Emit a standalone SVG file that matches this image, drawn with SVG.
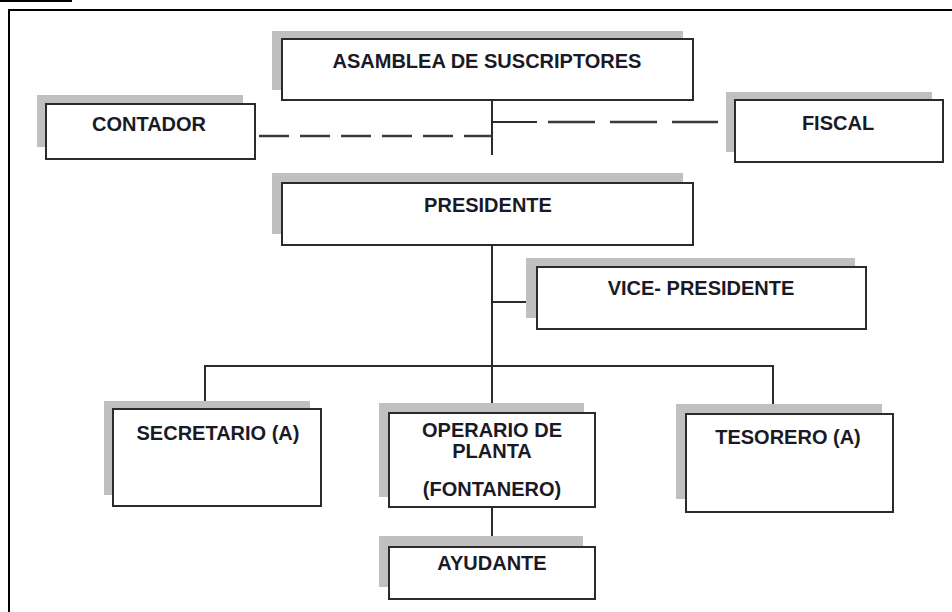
<svg xmlns="http://www.w3.org/2000/svg" width="952" height="612" viewBox="0 0 952 612">
<style>
.shadow{fill:#c0c0c0}
.box{fill:#ffffff;stroke:#2b2b2b;stroke-width:2}
.lbl{font-family:"Liberation Sans",Arial,sans-serif;font-weight:bold;font-size:20px;fill:#1a1a26;text-anchor:middle}
.ln{stroke:#2b2b2b;stroke-width:2;fill:none}
.dash{stroke:#3a3a3a;stroke-width:2.5;fill:none}
</style>
<rect x="0" y="0" width="952" height="612" fill="#ffffff"/>
<rect x="0" y="0" width="72" height="2" fill="#000"/>
<path d="M9,612 V10 H952" fill="none" stroke="#000" stroke-width="2"/>

<g id="connectors">
<line class="ln" x1="492" y1="100" x2="492" y2="155"/>
<line class="dash" x1="259" y1="136" x2="492" y2="136" stroke-dasharray="30 11"/>
<line class="ln" x1="492" y1="122" x2="537" y2="122"/>
<path class="dash" d="M548,122 H595 M610,122 H657 M672,122 H718"/>
<line class="ln" x1="492" y1="245" x2="492" y2="413"/>
<line class="ln" x1="492" y1="302" x2="537" y2="302"/>
<path class="ln" d="M205,409 V366 H773 V414"/>
<line class="ln" x1="492" y1="507" x2="492" y2="547"/>
</g>

<g id="asamblea">
<rect class="shadow" x="272" y="31" width="411" height="59"/>
<rect class="box" x="282" y="39" width="411" height="61"/>
<text class="lbl" x="487" y="68" font-size="21">ASAMBLEA DE SUSCRIPTORES</text>
</g>

<g id="contador">
<rect class="shadow" x="37" y="95" width="206" height="52"/>
<rect class="box" x="46" y="104" width="209" height="55"/>
<text class="lbl" x="149" y="131">CONTADOR</text>
</g>

<g id="fiscal">
<rect class="shadow" x="726" y="92" width="206" height="60"/>
<rect class="box" x="735" y="100" width="208" height="62"/>
<text class="lbl" x="838" y="130">FISCAL</text>
</g>

<g id="presidente">
<rect class="shadow" x="272" y="173" width="411" height="61"/>
<rect class="box" x="282" y="183" width="411" height="62"/>
<text class="lbl" x="488" y="212">PRESIDENTE</text>
</g>

<g id="vicepresidente">
<rect class="shadow" x="526" y="258" width="329" height="60"/>
<rect class="box" x="537" y="267" width="329" height="62"/>
<text class="lbl" x="701" y="295">VICE- PRESIDENTE</text>
</g>

<g id="secretario">
<rect class="shadow" x="104" y="401" width="206" height="94"/>
<rect class="box" x="113" y="409" width="208" height="97"/>
<text class="lbl" x="218" y="440">SECRETARIO (A)</text>
</g>

<g id="operario">
<rect class="shadow" x="379" y="403" width="205" height="94"/>
<rect class="box" x="389" y="413" width="206" height="94"/>
<text class="lbl" x="492" y="437">OPERARIO DE</text>
<text class="lbl" x="492" y="458">PLANTA</text>
<text class="lbl" x="492" y="496">(FONTANERO)</text>
</g>

<g id="tesorero">
<rect class="shadow" x="676" y="404" width="206" height="95"/>
<rect class="box" x="686" y="414" width="207" height="98"/>
<text class="lbl" x="788" y="444">TESORERO (A)</text>
</g>

<g id="ayudante">
<rect class="shadow" x="379" y="536" width="204" height="51"/>
<rect class="box" x="389" y="547" width="206" height="52"/>
<text class="lbl" x="492" y="570">AYUDANTE</text>
</g>
</svg>
